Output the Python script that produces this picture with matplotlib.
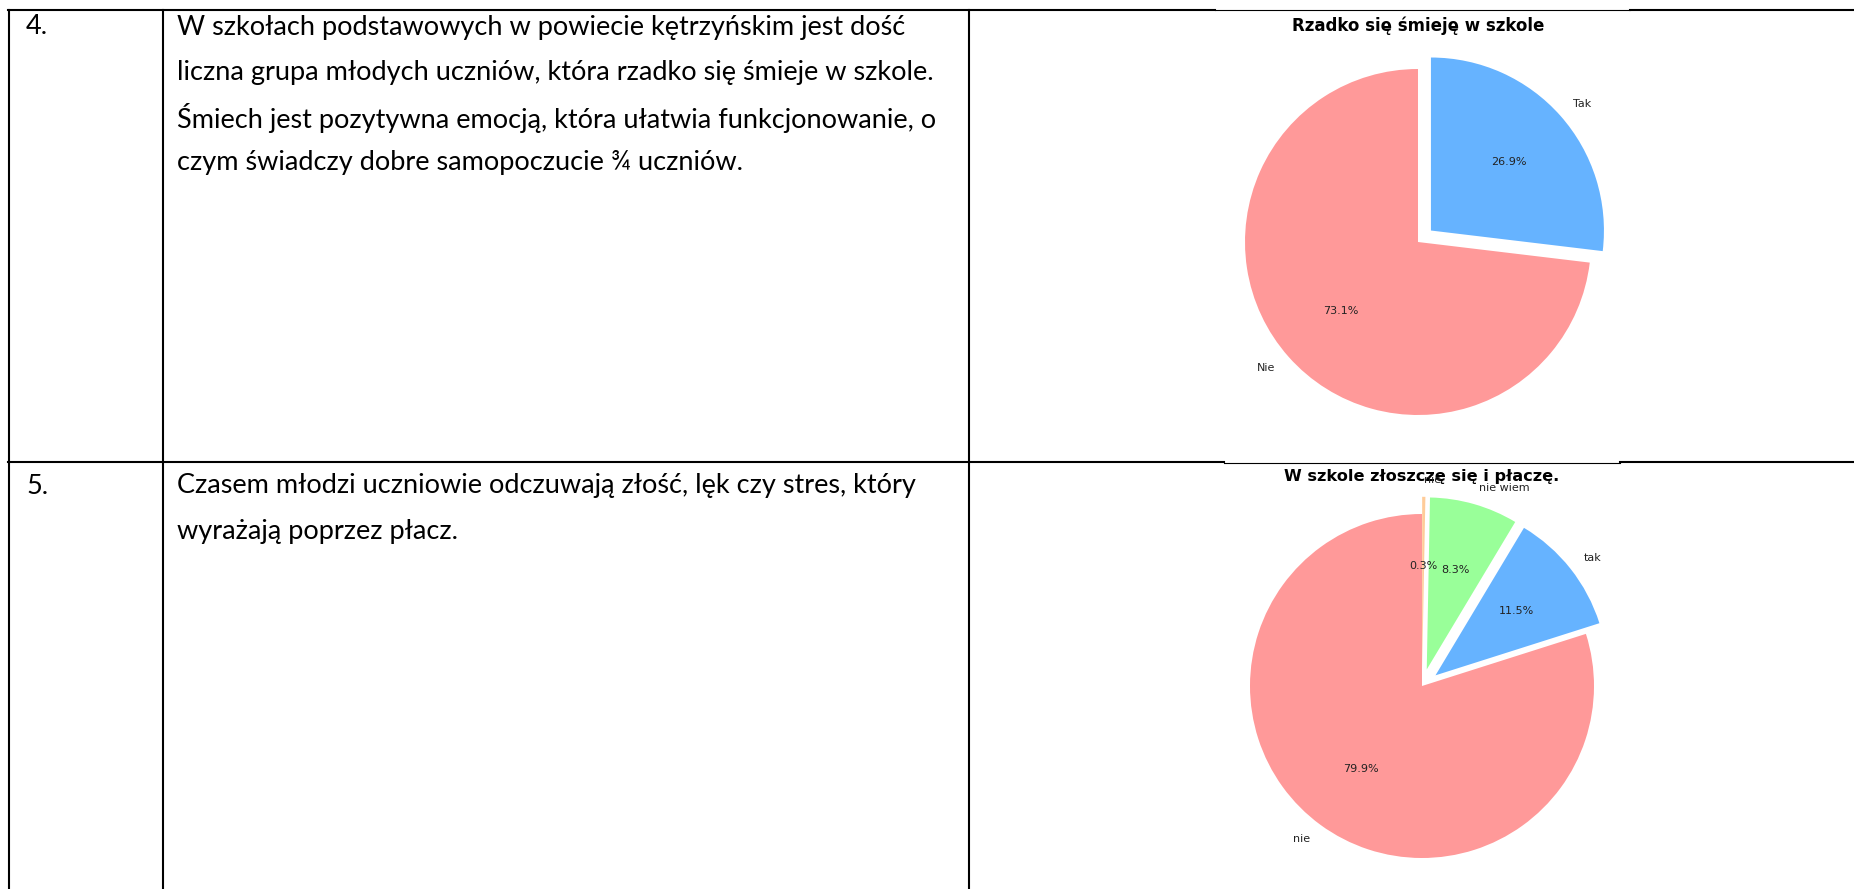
import matplotlib
matplotlib.use("Agg")
import matplotlib.pyplot as plt

# dane wykresów
pie1_title = "Rzadko się śmieję w szkole"
pie1_labels = ["Nie", "Tak"]
pie1_values = [73.1, 26.9]

pie2_title = "W szkole złoszczę się i płaczę."
pie2_labels = ["nie", "tak", "nie wiem", "nie"]
pie2_values = [79.9, 11.5, 8.3, 0.3]

colors = ["#ff9999", "#66b3ff", "#99ff99", "#ffcc99"]

row_numbers = ["4.", "5."]
row4_lines = [
    "W szkołach podstawowych w powiecie kętrzyńskim jest dość",
    "liczna grupa młodych uczniów, która rzadko się śmieje w szkole.",
    "Śmiech jest pozytywna emocją, która ułatwia funkcjonowanie, o",
    "czym świadczy dobre samopoczucie ¾ uczniów.",
]
row5_lines = [
    "Czasem młodzi uczniowie odczuwają złość, lęk czy stres, który",
    "wyrażają poprzez płacz.",
]

W, H = 1854, 889
fig = plt.figure(figsize=(W / 100, H / 100), dpi=100)
fig.patch.set_facecolor("white")

# warstwa tabeli w pikselach
tab = fig.add_axes([0, 0, 1, 1])
tab.set_xlim(0, W)
tab.set_ylim(H, 0)
tab.axis("off")

lw = 1.5
# linie poziome
tab.plot([8, 1215], [10, 10], color="black", lw=lw)
tab.plot([1630, W], [10, 10], color="black", lw=lw)
tab.plot([1215, 1630], [10, 10], color="black", lw=0.8)
tab.plot([8, 1224], [462, 462], color="black", lw=lw)
tab.plot([1620, W], [462, 462], color="black", lw=lw)
tab.plot([1224, 1620], [463, 463], color="black", lw=0.8)
# linie pionowe
for x in [9, 163, 969]:
    tab.plot([x, x], [10, H], color="black", lw=lw)

font = "Lato"
fs = 19.5
tab.text(26, 27, row_numbers[0], fontsize=fs, family=font, va="center")
tab.text(26, 486, row_numbers[1], fontsize=fs, family=font, va="center")
for i, line in enumerate(row4_lines):
    tab.text(177, 27 + i * 45.3, line, fontsize=fs, family=font, va="center")
for i, line in enumerate(row5_lines):
    tab.text(177, 486 + i * 45.3, line, fontsize=fs, family=font, va="center")


def add_pie(cx, cy, r, values, labels, cols, explode, title, ty, tfs):
    lim = 1.45
    size = 2 * r * lim
    ax = fig.add_axes([(cx - size / 2) / W, 1 - (cy + size / 2) / H, size / W, size / H])
    ax.pie(values, labels=labels, colors=cols, explode=explode,
           autopct="%1.1f%%", startangle=90,
           textprops={"fontsize": 8, "color": "#222222"},
           wedgeprops={"linewidth": 0})
    ax.set_xlim(-lim, lim)
    ax.set_ylim(-lim, lim)
    ax.set_aspect("equal")
    ax.axis("off")
    tab.text(cx, ty, title, fontsize=tfs, fontweight="bold", ha="center", va="center")


add_pie(1418, 242, 173, pie1_values, pie1_labels, colors[:2], (0, 0.1), pie1_title, 26, 12)
add_pie(1422, 686, 172, pie2_values, pie2_labels, colors, (0, 0.1, 0.1, 0.1), pie2_title, 477, 11.6)

fig.savefig("out.png", dpi=100)
